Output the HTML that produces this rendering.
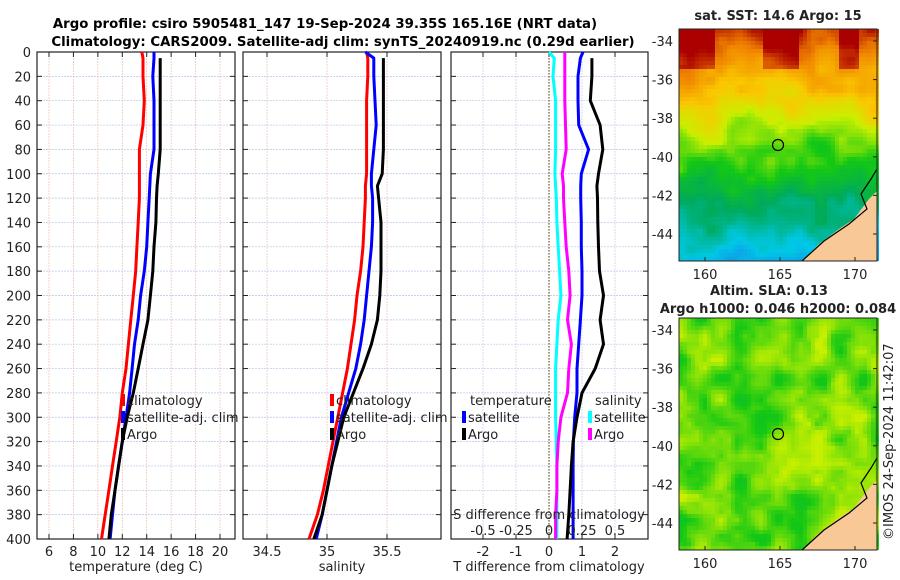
<!DOCTYPE html>
<html><head><meta charset="utf-8"><style>
body{margin:0;background:#fff;}
svg{display:block;font-family:"DejaVu Sans","Liberation Sans",sans-serif;}
</style></head><body>
<svg id="fig" width="900" height="580" xmlns="http://www.w3.org/2000/svg">
<text x="325" y="28" font-size="13.3" font-weight="bold" text-anchor="middle">Argo profile: csiro 5905481_147 19-Sep-2024 39.35S 165.16E (NRT data)</text>
<text x="343" y="46" font-size="13.3" font-weight="bold" text-anchor="middle">Climatology: CARS2009. Satellite-adj clim: synTS_20240919.nc (0.29d earlier)</text>
<g id="plots"></g>
<g id="maps"></g>
<text transform="translate(893,540) rotate(-90)" font-size="13" fill="#222">©IMOS 24-Sep-2024 11:42:07</text>
</svg>
<script>
const depths=[0,5,20,40,60,80,100,110,120,140,160,180,200,220,240,260,280,300,320,340,360,380,400];
const tempClim=[13.6,13.7,13.7,13.8,13.7,13.4,13.4,13.4,13.4,13.3,13.2,13.1,12.9,12.7,12.5,12.3,12.0,11.8,11.5,11.2,10.9,10.6,10.3];
const tempSat=[14.6,14.6,14.5,14.6,14.6,14.6,14.3,14.25,14.2,14.1,14.0,13.8,13.5,13.3,13.0,12.8,12.6,12.3,12.0,11.7,11.4,11.2,11.0];
const tempArgo=[null,15.1,15.1,15.1,15.1,15.1,14.95,14.85,14.8,14.75,14.6,14.5,14.3,14.1,13.7,13.3,12.9,12.4,12.0,11.7,11.4,11.1,10.9];
const salClim=[35.33,35.34,35.34,35.33,35.33,35.33,35.33,35.32,35.32,35.31,35.3,35.28,35.25,35.23,35.2,35.17,35.13,35.09,35.05,35.01,34.97,34.92,34.85];
const salSat=[35.32,35.39,35.39,35.4,35.41,35.39,35.37,35.37,35.38,35.38,35.37,35.35,35.33,35.31,35.28,35.24,35.18,35.12,35.08,35.04,35.0,34.96,34.91];
const salArgo=[null,35.47,35.47,35.47,35.47,35.47,35.46,35.42,35.43,35.45,35.45,35.45,35.44,35.42,35.37,35.3,35.22,35.14,35.09,35.04,35.0,34.96,34.89];
const tDiffSat=[1.03,0.95,0.88,0.88,0.9,1.2,0.98,0.96,0.96,0.98,0.98,1.0,1.0,0.95,0.9,0.85,0.85,0.78,0.74,0.73,0.73,0.73,0.73];
const tDiffArgo=[null,1.3,1.3,1.25,1.55,1.63,1.5,1.45,1.47,1.48,1.5,1.53,1.65,1.55,1.65,1.4,1.0,0.85,0.73,0.68,0.64,0.6,0.55];
const sDiffSat=[0.0,0.04,0.03,0.05,0.05,0.05,0.045,0.05,0.055,0.06,0.07,0.08,0.09,0.07,0.06,0.05,0.05,0.05,0.055,0.06,0.06,0.06,0.06];
const sDiffArgo=[0.12,0.12,0.12,0.12,0.125,0.13,0.1,0.11,0.11,0.12,0.13,0.15,0.16,0.14,0.17,0.15,0.14,0.09,0.07,0.06,0.06,0.05,0.05];
const depthTicks=[0,20,40,60,80,100,120,140,160,180,200,220,240,260,280,300,320,340,360,380,400];
const tempTicks=[6,8,10,12,14,16,18,20];
const salTicks=[34.5,35,35.5];
const tDiffTicks=[-2,-1,0,1,2];
const sDiffTicks=[-0.5,-0.25,0,0.25,0.5];
const sDiffTickLabels=["-0.5","-0.25","0","0.25","0.5"];

const NS="http://www.w3.org/2000/svg";
function mk(tag,attrs,parent){const e=document.createElementNS(NS,tag);for(const k in attrs)e.setAttribute(k,attrs[k]);parent.appendChild(e);return e;}
const plots=document.getElementById('plots');
const Y0=52,Y1=539;
const yD=d=>Y0+d/400*(Y1-Y0);
function lin(d0,d1,r0,r1){return v=>r0+(v-d0)/(d1-d0)*(r1-r0);}

function panel(name,x0,x1,xs,xticks,xlabels,showDepth,gridColorV){
  const g=mk('g',{},plots);
  
  
  depthTicks.forEach(d=>{
    const l=mk('line',{x1:x0,x2:x1,y1:yD(d),y2:yD(d),stroke:'#b8c4e8','stroke-width':0.7,'stroke-dasharray':'2,1'},g);
    
    
    mk('line',{x1:x0,x2:x0+5,y1:yD(d),y2:yD(d),stroke:'#222'},g);
    mk('line',{x1:x1-5,x2:x1,y1:yD(d),y2:yD(d),stroke:'#222'},g);
    if(showDepth){const t=mk('text',{x:x0-6,y:yD(d)+5,'font-size':13,'text-anchor':'end',fill:'#222'},g);t.textContent=d;
      
      }
  });
  xticks.forEach((v,i)=>{
    const l=mk('line',{x1:xs(v),x2:xs(v),y1:Y0,y2:Y1,stroke:gridColorV,'stroke-width':0.7,'stroke-dasharray':'2,1'},g);
    
    
    mk('line',{x1:xs(v),x2:xs(v),y1:Y1,y2:Y1-5,stroke:'#222'},g);
    mk('line',{x1:xs(v),x2:xs(v),y1:Y0,y2:Y0+5,stroke:'#222'},g);
    if(xlabels){const t=mk('text',{x:xs(v),y:Y1+17,'font-size':13,'text-anchor':'middle',fill:'#222'},g);t.textContent=xlabels[i];
      
      }
  });
  const r=mk('rect',{x:x0,y:Y0,width:x1-x0,height:Y1-Y0,fill:'none',stroke:'#222','stroke-width':1.2},g);
  
  
  return g;
}
function series(g,name,vals,xs,color,w){
  let pts=[];vals.forEach((v,i)=>{if(v!==null)pts.push(xs(v).toFixed(1)+','+yD(depths[i]).toFixed(1));});
  const p=mk('polyline',{points:pts.join(' '),fill:'none',stroke:color,'stroke-width':w||3,'stroke-linejoin':'round'},g);
  
  
}
function txt(g,name,x,y,s,anchor,size){const t=mk('text',{x:x,y:y,'font-size':size||13,'text-anchor':anchor||'start',fill:'#222'},g);t.textContent=s;
  
  return t;}
function legItem(g,name,x,y,color,label){
  const r=mk('rect',{x:x,y:y-11,width:4,height:12,fill:color},g);
  
  
  txt(g,name,x+6,y,label);
}

// Panel 1 temperature
const xT=lin(6,20,49,220);
const g1=panel('temperature-panel',37,235,xT,tempTicks,tempTicks.map(String),true,'#e8c0b0');
series(g1,'temp-climatology-line',tempClim,xT,'#ff0000');
series(g1,'temp-satellite-line',tempSat,xT,'#0000ff');
series(g1,'temp-argo-line',tempArgo,xT,'#000000');
txt(g1,'x-axis-title-temperature',136,571,'temperature (deg C)','middle');
legItem(g1,'legend-climatology',121,405,'#ff0000','climatology');
legItem(g1,'legend-satellite-adj',121,422,'#0000ff','satellite-adj. clim');
legItem(g1,'legend-argo',121,439,'#000000','Argo');

// Panel 2 salinity
const xS=lin(34.5,35.5,267,387);
const g2=panel('salinity-panel',243,441,xS,salTicks,salTicks.map(String),false,'#e8c0b0');
series(g2,'sal-climatology-line',salClim,xS,'#ff0000');
series(g2,'sal-satellite-line',salSat,xS,'#0000ff');
series(g2,'sal-argo-line',salArgo,xS,'#000000');
txt(g2,'x-axis-title-salinity',342,571,'salinity','middle');
legItem(g2,'legend-sal-climatology',330,405,'#ff0000','climatology');
legItem(g2,'legend-sal-satellite-adj',330,422,'#0000ff','satellite-adj. clim');
legItem(g2,'legend-sal-argo',330,439,'#000000','Argo');

// Panel 3 differences
const xTD=lin(-2,2,483,615);
const xSD=lin(-0.5,0.5,483,615);
const g3=panel('difference-panel',451,648,xTD,tDiffTicks,tDiffTicks.map(String),false,'#c8c8e8');
const zl=mk('line',{x1:xTD(0),x2:xTD(0),y1:Y0,y2:Y1,stroke:'#6b5a2a','stroke-width':1.2,'stroke-dasharray':'1.5,1.5'},g3);


series(g3,'s-diff-satellite-line',sDiffSat,xSD,'#00ffff');
series(g3,'s-diff-argo-line',sDiffArgo,xSD,'#ff00ff');
series(g3,'t-diff-satellite-line',tDiffSat,xTD,'#0000ff');
series(g3,'t-diff-argo-line',tDiffArgo,xTD,'#000000');
txt(g3,'s-diff-axis-title',549,519,'S difference from climatology','middle');
sDiffTicks.forEach((v,i)=>txt(g3,'s-diff-tick-label',xSD(v),535,sDiffTickLabels[i],'middle'));
txt(g3,'t-diff-axis-title',549,571,'T difference from climatology','middle');
txt(g3,'legend-title-temperature',470,405,'temperature');
legItem(g3,'legend-t-satellite',462,422,'#0000ff','satellite');
legItem(g3,'legend-t-argo',462,439,'#000000','Argo');
txt(g3,'legend-title-salinity',595,405,'salinity');
legItem(g3,'legend-s-satellite',588,422,'#00ffff','satellite');
legItem(g3,'legend-s-argo',588,439,'#ff00ff','Argo');

// Maps (texture via deterministic value noise)
const maps=document.getElementById('maps');
function hash(i,j,s){let h=Math.sin(i*127.1+j*311.7+s*74.7)*43758.5453;return h-Math.floor(h);}
function vnoise(x,y,s){const i=Math.floor(x),j=Math.floor(y),fx=x-i,fy=y-j;
  const u=fx*fx*(3-2*fx),v=fy*fy*(3-2*fy);
  const a=hash(i,j,s),b=hash(i+1,j,s),c=hash(i,j+1,s),d=hash(i+1,j+1,s);
  return (a*(1-u)+b*u)*(1-v)+(c*(1-u)+d*u)*v-0.5;}
function jet(v){v=Math.max(0,Math.min(1,v));
  const stops=[[0,[20,140,230]],[0.15,[0,200,230]],[0.3,[0,170,90]],[0.45,[20,200,20]],[0.6,[200,240,0]],[0.72,[250,200,0]],[0.85,[240,130,0]],[1,[170,0,0]]];
  for(let i=1;i<stops.length;i++){if(v<=stops[i][0]){const a=stops[i-1],b=stops[i],t=(v-a[0])/(b[0]-a[0]);return 'rgb('+a[1].map((c,k)=>Math.round(c+(b[1][k]-c)*t)).join(',')+')';}}
  return 'rgb(170,0,0)';}
function map(name,x0,y0,type,title1,title2){
  const W=198,H=232;
  const g=mk('g',{},maps);
  
  
  const cs=4;
  for(let j=0;j<H/cs;j++)for(let i=0;i<W/cs;i++){
    let v;
    if(type==='sst'){v=0.96-j/(H/cs)*0.88+0.16*vnoise(i/7,j/7,1)+0.07*vnoise(i/2.5,j/2.5,3);
      if(j<10&&(i<9||(i>20&&i<30)||(i>39&&i<45)))v+=0.12;}
    else{v=0.52+0.16*vnoise(i/5,j/5,2)+0.06*vnoise(i/2,j/2,5);}
    mk('rect',{x:x0+i*cs,y:y0+j*cs,width:cs,height:cs,fill:jet(v)},g);
  }
  const land=mk('polygon',{points:[[123,232],[140,215],[160,200],[175,190],[190,170],[198,162],[198,232]].map(p=>(x0+p[0])+','+(y0+p[1])).join(' '),fill:'#f8c896'},g);
  
  
  const coast=mk('polyline',{points:[[123,232],[145,212],[170,195],[188,180],[182,165],[192,150],[198,140]].map(p=>(x0+p[0])+','+(y0+p[1])).join(' '),fill:'none',stroke:'#000','stroke-width':1.2},g);
  
  
  const c=mk('circle',{cx:x0+99,cy:y0+116,r:5.5,fill:'none',stroke:'#000','stroke-width':1.2},g);
  
  
  mk('rect',{x:x0,y:y0,width:W,height:H,fill:'none',stroke:'#222','stroke-width':1},g);
  [-34,-36,-38,-40,-42,-44].forEach(lat=>{const y=y0+12+(-34-lat)*19.3;
    mk('line',{x1:x0+W,x2:x0+W-4,y1:y,y2:y,stroke:'#222'},g);
    txt(g,'lat-tick-label',x0-6,y+5,String(lat),'end');});
  [160,165,170].forEach(lon=>{const x=x0+26+(lon-160)*15;
    mk('line',{x1:x,x2:x,y1:y0+H,y2:y0+H-4,stroke:'#222'},g);
    txt(g,'lon-tick-label',x,y0+H+18,String(lon),'middle');});
  if(title2){txt(g,'map-title',x0+90,y0-23,title1,'middle').setAttribute('font-weight','bold');
    txt(g,'map-subtitle',x0+99,y0-5,title2,'middle').setAttribute('font-weight','bold');}
  else txt(g,'map-title',x0+99,y0-9,title1,'middle').setAttribute('font-weight','bold');
}
map('sst-map',679,29,'sst','sat. SST: 14.6 Argo: 15');
map('sla-map',679,318,'sla','Altim. SLA: 0.13','Argo h1000: 0.046 h2000: 0.084');
</script>
</body></html>
